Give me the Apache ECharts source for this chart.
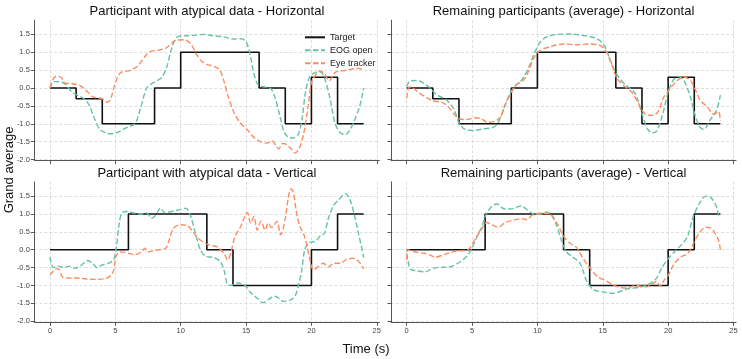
<!DOCTYPE html>
<html>
<head>
<meta charset="utf-8">
<script src="https://cdn.jsdelivr.net/npm/echarts@6/dist/echarts.min.js"></script>
<style>
  html, body { margin: 0; padding: 0; background: #fff; }
  #chart { width: 742px; height: 359px; }
</style>
</head>
<body>
<div id="chart"></div>
<script>
const FONT = "'Liberation Sans', Arial, sans-serif";

// step target, value held from each time until the next one
const targetTimes = [0, 2, 4, 6, 8, 10, 12, 14, 16, 18, 20, 22, 24];
const targetHoriz = [0, -0.3, -1, -1, 0, 1, 1, 1, 0, -1, 0.3, -1, -1];
const targetVert = [0, 0, 0, 1, 1, 1, 0, -1, -1, -1, 0, 1, 1];

const xTicks = [0, 5, 10, 15, 20, 25];
const yTicks = [-2, -1.5, -1, -0.5, 0, 0.5, 1, 1.5];

const panelTitles = [
  "Participant with atypical data - Horizontal",
  "Remaining participants (average) - Horizontal",
  "Participant with atypical data - Vertical",
  "Remaining participants (average) - Vertical"
];

// [time (s), grand average]
const eogAtypH = [[0,0],[0.25,0.18],[0.75,0.18],[1.2,0.1],[1.7,-0.12],[2.2,-0.22],[2.6,-0.3],[3.0,-0.48],[3.4,-0.85],[3.8,-1.15],[4.3,-1.26],[4.8,-1.28],[5.3,-1.22],[5.9,-1.1],[6.5,-1.0],[6.9,-0.6],[7.4,0.0],[7.9,0.15],[8.5,0.28],[8.9,0.55],[9.3,1.1],[9.7,1.42],[10.3,1.46],[11.2,1.48],[11.7,1.5],[12.5,1.46],[13.3,1.43],[14.0,1.37],[14.6,1.38],[15.0,1.3],[15.3,0.95],[15.6,0.4],[15.9,0.1],[16.4,0.03],[16.9,-0.02],[17.2,-0.25],[17.6,-0.8],[17.9,-1.22],[18.2,-1.37],[18.6,-1.4],[19.0,-1.3],[19.3,-0.82],[19.55,-0.1],[19.85,0.3],[20.2,0.42],[20.7,0.45],[21.0,0.28],[21.4,-0.25],[21.8,-0.98],[22.2,-1.25],[22.6,-1.3],[22.9,-1.2],[23.3,-0.9],[23.7,-0.5],[24.0,0.0]];
const eyeAtypH = [[0,0.0],[0.2,0.22],[0.5,0.33],[0.85,0.3],[1.15,0.14],[1.7,0.12],[2.3,0.07],[2.8,-0.08],[3.3,-0.25],[4.0,-0.3],[4.4,-0.4],[4.65,-0.3],[5.0,0.15],[5.4,0.43],[6.0,0.48],[6.4,0.54],[6.8,0.65],[7.2,0.85],[7.6,1.01],[8.3,1.06],[8.9,1.12],[9.3,1.26],[9.7,1.34],[10.3,1.35],[10.8,1.22],[11.2,0.95],[11.6,0.75],[12.0,0.66],[12.6,0.6],[13.0,0.5],[13.3,0.2],[13.6,-0.2],[14.0,-0.62],[14.5,-0.95],[15.05,-1.15],[15.6,-1.38],[16.1,-1.5],[16.6,-1.54],[17.0,-1.48],[17.3,-1.62],[17.5,-1.7],[17.8,-1.55],[18.1,-1.58],[18.45,-1.7],[18.75,-1.82],[19.1,-1.66],[19.45,-1.2],[19.75,-0.5],[20.0,0.15],[20.3,0.35],[20.65,0.48],[21.0,0.4],[21.35,0.2],[21.8,0.43],[22.3,0.48],[22.8,0.5],[23.2,0.54],[23.6,0.55],[24.0,0.5]];

const eogAvgH = [[0,0.04],[0.25,0.2],[0.75,0.21],[1.2,0.16],[1.65,0.04],[2.3,-0.19],[3.0,-0.32],[3.6,-0.58],[4.0,-0.98],[4.4,-1.14],[5.1,-1.19],[5.9,-1.14],[6.6,-1.1],[7.0,-0.97],[7.45,-0.55],[7.9,-0.15],[8.3,0.05],[8.9,0.27],[9.4,0.63],[9.75,0.95],[10.2,1.28],[10.7,1.43],[11.5,1.5],[12.5,1.51],[13.5,1.47],[14.5,1.39],[15.05,1.23],[15.4,0.95],[15.8,0.58],[16.2,0.31],[16.8,0.07],[17.3,-0.07],[17.6,-0.25],[18.0,-0.71],[18.4,-1.13],[18.75,-1.25],[19.1,-1.22],[19.6,-0.71],[20.0,-0.11],[20.4,0.22],[20.8,0.32],[21.2,0.22],[21.7,-0.25],[22.1,-0.81],[22.45,-1.1],[22.75,-1.16],[23.2,-0.9],[23.7,-0.62],[24.0,-0.2]];
const eyeAvgH = [[0,-0.29],[0.2,0.03],[0.5,0.0],[1.0,-0.15],[1.5,-0.26],[2.0,-0.36],[2.7,-0.4],[3.2,-0.53],[3.6,-0.72],[4.0,-0.86],[4.6,-0.88],[5.2,-0.83],[5.7,-0.86],[6.2,-0.96],[6.8,-0.92],[7.2,-0.8],[7.5,-0.5],[7.9,-0.2],[8.4,0.1],[8.9,0.2],[9.3,0.45],[9.7,0.82],[10.2,1.05],[11.0,1.16],[12.0,1.23],[13.0,1.21],[14.0,1.23],[14.8,1.19],[15.3,1.0],[15.7,0.63],[16.1,0.26],[16.6,0.07],[17.2,-0.11],[17.6,-0.34],[18.0,-0.62],[18.4,-0.76],[18.9,-0.76],[19.3,-0.62],[19.6,-0.3],[20.15,-0.02],[20.7,0.21],[21.2,0.31],[21.7,0.21],[22.1,-0.06],[22.45,-0.34],[23.0,-0.53],[23.5,-0.74],[23.85,-0.66],[24.0,-0.92]];

const eogAtypV = [[0,-0.2],[0.25,-0.5],[0.6,-0.46],[1.1,-0.5],[1.5,-0.46],[1.9,-0.52],[2.4,-0.43],[2.9,-0.3],[3.3,-0.4],[3.6,-0.5],[3.95,-0.43],[4.45,-0.38],[4.85,-0.29],[5.07,0.05],[5.3,0.75],[5.5,1.03],[5.9,1.07],[6.4,1.03],[6.9,1.0],[7.4,1.03],[7.75,0.88],[8.05,0.95],[8.45,1.16],[8.8,1.03],[9.3,1.07],[9.95,1.12],[10.4,1.16],[10.75,0.95],[11.1,0.5],[11.5,0.0],[11.9,-0.18],[12.5,-0.22],[13.0,-0.32],[13.3,-0.55],[13.55,-0.95],[13.8,-1.0],[14.3,-0.93],[14.9,-0.99],[15.3,-1.18],[15.9,-1.37],[16.3,-1.48],[16.8,-1.37],[17.2,-1.3],[17.6,-1.38],[17.85,-1.45],[18.4,-1.4],[18.75,-1.3],[19.0,-1.0],[19.25,-0.6],[19.5,0.02],[19.85,0.2],[20.3,0.23],[20.7,0.4],[21.0,0.46],[21.3,0.88],[21.7,1.24],[22.1,1.4],[22.6,1.57],[22.95,1.4],[23.3,0.95],[23.6,0.45],[23.85,0.05],[24.0,-0.22]];
const eyeAtypV = [[0,-0.71],[0.25,-0.6],[0.5,-0.53],[0.7,-0.55],[0.95,-0.76],[1.4,-0.79],[2.0,-0.79],[2.8,-0.82],[3.6,-0.83],[4.3,-0.8],[4.65,-0.72],[4.9,-0.55],[5.05,-0.18],[5.4,-0.06],[6.0,-0.1],[6.5,-0.14],[7.0,-0.06],[7.25,0.04],[7.45,-0.06],[8.15,-0.01],[8.85,0.04],[9.1,0.25],[9.45,0.6],[10.0,0.7],[10.5,0.68],[10.9,0.52],[11.3,0.33],[11.8,0.2],[12.2,0.13],[12.8,0.08],[13.3,-0.1],[13.6,-0.29],[13.85,-0.06],[14.15,0.37],[14.55,0.62],[14.9,0.93],[15.1,1.04],[15.35,0.74],[15.6,0.93],[15.85,0.55],[16.15,0.8],[16.45,0.55],[16.7,0.74],[16.95,0.62],[17.35,0.79],[17.65,0.42],[18.0,0.88],[18.25,1.5],[18.45,1.7],[18.6,1.63],[18.9,0.95],[19.15,0.62],[19.4,0.45],[19.65,0.13],[19.85,-0.22],[20.15,-0.57],[20.5,-0.48],[20.9,-0.38],[21.3,-0.48],[21.7,-0.38],[22.2,-0.38],[22.7,-0.27],[23.2,-0.24],[23.6,-0.32],[24.0,-0.53]];

const eogAvgV = [[0,-0.1],[0.15,-0.4],[0.3,-0.55],[0.76,-0.59],[1.4,-0.62],[2.0,-0.52],[2.8,-0.49],[3.4,-0.47],[4.05,-0.35],[4.6,-0.18],[4.97,0.02],[5.36,0.35],[5.75,0.65],[6.12,1.02],[6.5,1.21],[6.9,1.28],[7.5,1.14],[8.15,1.15],[8.75,1.23],[9.15,1.14],[9.7,1.0],[10.3,0.99],[10.7,1.06],[11.05,0.98],[11.45,0.7],[11.85,0.25],[12.2,-0.05],[12.6,-0.18],[13.2,-0.35],[13.5,-0.6],[13.8,-0.9],[14.3,-1.12],[15.0,-1.18],[15.8,-1.22],[16.8,-1.1],[17.8,-1.05],[18.5,-0.97],[19.1,-0.8],[19.5,-0.52],[19.9,-0.3],[20.5,-0.05],[21.0,0.13],[21.5,0.38],[21.9,0.9],[22.4,1.3],[22.9,1.5],[23.3,1.45],[23.7,1.2],[23.9,0.95],[24.0,0.95]];
const eyeAvgV = [[0,-0.29],[0.1,0.0],[0.4,-0.04],[0.9,-0.08],[1.3,-0.1],[1.8,-0.15],[2.2,-0.21],[2.9,-0.13],[3.8,-0.04],[4.7,0.0],[5.2,0.28],[5.7,0.55],[6.1,0.76],[6.5,0.7],[7.0,0.63],[7.5,0.75],[8.2,0.83],[8.8,0.87],[9.2,0.84],[9.6,0.97],[10.3,1.02],[11.0,0.99],[11.5,0.74],[12.0,0.38],[12.5,0.18],[13.0,0.06],[13.5,-0.25],[14.0,-0.5],[14.6,-0.75],[15.3,-0.88],[16.0,-1.02],[16.8,-1.07],[17.5,-1.0],[18.3,-1.04],[18.8,-0.95],[19.1,-0.88],[19.4,-1.02],[19.7,-0.85],[20.0,-0.72],[20.4,-0.43],[20.9,-0.22],[21.5,-0.1],[21.9,0.15],[22.4,0.48],[22.9,0.63],[23.3,0.6],[23.6,0.45],[23.85,0.27],[24.0,0.0]];

const panels = [
  { target: targetHoriz, eog: eogAtypH, eye: eyeAtypH },
  { target: targetHoriz, eog: eogAvgH, eye: eyeAvgH },
  { target: targetVert, eog: eogAtypV, eye: eyeAtypV },
  { target: targetVert, eog: eogAvgV, eye: eyeAvgV }
];

const chart = echarts.init(document.getElementById("chart"), null, { renderer: "canvas" });

const grids = [
  { left: 34.3, top: 20.1, width: 345.1, height: 140.5 },
  { left: 391, top: 20.1, width: 345.1, height: 140.5 },
  { left: 34.3, top: 181.8, width: 345.1, height: 140.5 },
  { left: 391, top: 181.8, width: 345.1, height: 140.5 }
];

const axisColor = "#555";
const gridLine = { show: true, lineStyle: { color: "#d6d6d6", width: 0.8, type: [3, 2] } };

const xAxes = grids.map((g, i) => ({
  type: "value",
  gridIndex: i,
  min: -1.2,
  max: 25.2,
  axisLine: { show: true, onZero: false, lineStyle: { color: axisColor, width: 1 } },
  axisTick: { show: true, length: 3.5, customValues: xTicks, lineStyle: { color: axisColor } },
  axisLabel: {
    show: i >= 2,
    customValues: xTicks,
    fontSize: 7.5,
    fontFamily: FONT,
    color: "#444",
    margin: 4.5
  },
  splitLine: gridLine
}));

const yAxes = grids.map((g, i) => ({
  type: "value",
  gridIndex: i,
  min: -2.03,
  max: 1.9,
  axisLine: { show: true, onZero: false, lineStyle: { color: axisColor, width: 1 } },
  axisTick: { show: true, length: 3.5, customValues: yTicks, lineStyle: { color: axisColor } },
  axisLabel: {
    show: i % 2 === 0,
    customValues: yTicks,
    formatter: v => v.toFixed(1),
    fontSize: 7.5,
    fontFamily: FONT,
    color: "#444",
    margin: 4.5
  },
  splitLine: gridLine
}));

const series = [];
panels.forEach((p, i) => {
  series.push({
    name: "Target",
    type: "line",
    xAxisIndex: i,
    yAxisIndex: i,
    step: "end",
    symbol: "none",
    data: targetTimes.map((t, k) => [t, p.target[k]]),
    lineStyle: { color: "#111", width: 1.6 },
    itemStyle: { color: "#111" }
  });
  series.push({
    name: "EOG open",
    type: "line",
    xAxisIndex: i,
    yAxisIndex: i,
    smooth: 0.3,
    symbol: "none",
    data: p.eog,
    lineStyle: { color: "#66c2a5", width: 1.4, type: [5.5, 2.5] },
    itemStyle: { color: "#66c2a5" }
  });
  series.push({
    name: "Eye tracker",
    type: "line",
    xAxisIndex: i,
    yAxisIndex: i,
    smooth: 0.3,
    symbol: "none",
    data: p.eye,
    lineStyle: { color: "#fc8d62", width: 1.4, type: [5.5, 2.5] },
    itemStyle: { color: "#fc8d62" }
  });
});

const titleCenters = [[206.9, 11.5], [563.5, 11.5], [206.9, 173.5], [563.5, 173.5]];

const texts = panelTitles.map((t, i) => ({
  type: "text",
  x: titleCenters[i][0],
  y: titleCenters[i][1],
  style: {
    text: t, fontSize: 13, fontFamily: FONT, fill: "#111",
    align: "center", verticalAlign: "middle",
    textAlign: "center", textVerticalAlign: "middle"
  }
}));
texts.push({
  type: "text",
  x: 366,
  y: 349,
  style: {
    text: "Time (s)", fontSize: 13, fontFamily: FONT, fill: "#111",
    align: "center", verticalAlign: "middle",
    textAlign: "center", textVerticalAlign: "middle"
  }
});
texts.push({
  type: "text",
  x: 9,
  y: 170,
  rotation: Math.PI / 2,
  style: {
    text: "Grand average", fontSize: 13, fontFamily: FONT, fill: "#111",
    align: "center", verticalAlign: "middle",
    textAlign: "center", textVerticalAlign: "middle"
  }
});

chart.setOption({
  animation: false,
  backgroundColor: "#fff",
  grid: grids,
  xAxis: xAxes,
  yAxis: yAxes,
  legend: {
    orient: "vertical",
    left: 299,
    top: 27.8,
    itemWidth: 20,
    itemHeight: 9,
    itemGap: 4,
    itemStyle: { opacity: 0 }, // line only, no marker in the key
    textStyle: { fontSize: 9, fontFamily: FONT, color: "#222" },
    data: ["Target", "EOG open", "Eye tracker"]
  },
  graphic: texts,
  series: series
});
</script>
</body>
</html>
